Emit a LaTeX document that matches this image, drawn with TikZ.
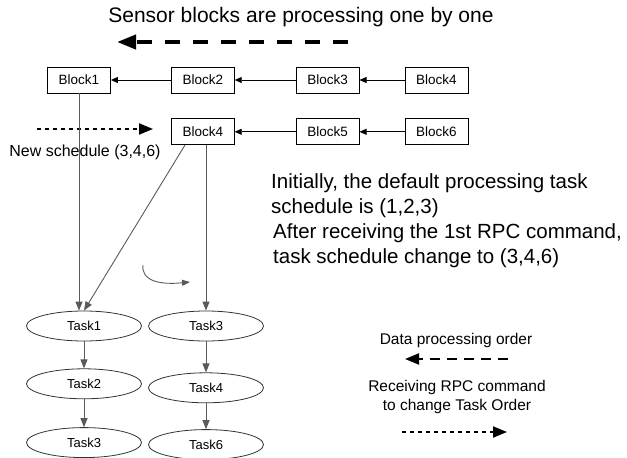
\documentclass[tikz,border=0pt]{standalone}
\usepackage{fontspec}
\setmainfont{Liberation Sans}
\usetikzlibrary{arrows.meta,positioning,shapes.geometric}
\definecolor{linkgray}{HTML}{5A5A5A}

\begin{document}
\begin{tikzpicture}
  [x=1pt,y=-1pt,
   blockbox/.style={draw,line width=0.8pt,minimum width=63pt,minimum height=26pt,
     inner sep=0pt,font=\fontsize{13.5}{16}\selectfont},
   taskbox/.style={ellipse,draw=black!80,line width=0.8pt,minimum width=115pt,
     minimum height=30pt,inner sep=0pt,font=\fontsize{13}{16}\selectfont},
   post/.style={-{Triangle[length=7pt,width=6pt]},line width=0.8pt},
   feed/.style={-{Triangle[length=9pt,width=7pt]},draw=linkgray,fill=none,line width=0.9pt},
   big text/.style={font=\fontsize{20.5}{25}\selectfont,align=left,inner sep=0pt},
   small text/.style={font=\fontsize{15.5}{19}\selectfont,align=center,inner sep=0pt},
   order/.style={line width=4pt,dash pattern=on 15pt off 13pt,
     -{Triangle[length=19pt,width=14pt]}},
   order key/.style={line width=2pt,dash pattern=on 10pt off 7pt,
     -{Triangle[length=14pt,width=11pt]}},
   rpc/.style={line width=2pt,dash pattern=on 4pt off 4pt,
     -{Triangle[length=14pt,width=11pt]}}]

  \useasboundingbox (0,0) rectangle (627,458);

  \node[big text,font=\fontsize{21}{25}\selectfont] (title) at (301,17)
    {Sensor blocks are processing one by one};
  \coordinate (order start) at (348,42);
  \coordinate (order end)   at (117,42);
  \draw[order] (order start) -- (order end);

  % sensor blocks, processed right to left
  \node[blockbox] (block 1) at (79,80)               {Block1};
  \node[blockbox] (block 2) [right=60pt of block 1] {Block2}
    edge [post] (block 1);
  \node[blockbox] (block 3) [right=61pt of block 2] {Block3}
    edge [post] (block 2);
  \node[blockbox] (block 4) [right=45pt of block 3] {Block4}
    edge [post] (block 3);

  \node[blockbox] (next 4)  [below=25pt of block 2] {Block4};
  \node[blockbox] (next 5)  [below=25pt of block 3] {Block5}
    edge [post] (next 4);
  \node[blockbox] (next 6)  [below=25pt of block 4] {Block6}
    edge [post] (next 5);

  \coordinate (rpc start) at (37,129);
  \coordinate (rpc end)   at (153,129);
  \draw[rpc] (rpc start) -- (rpc end);
  \node[small text,font=\fontsize{16}{19}\selectfont] (new schedule) at (85,152)
    {New schedule (3,4,6)};

  \node[big text,anchor=west] (default note) at (271,195.5)
    {Initially, the default processing task\\schedule is (1,2,3)};
  \node[big text,anchor=west] (change note) at (273,245.5)
    {After receiving the 1st RPC command,\\task schedule change to (3,4,6)};

  % task schedules: default (1,2,3) and new (3,4,6)
  \node[taskbox] (old 1) at (84,326)             {Task1};
  \node[taskbox] (old 2) [below=27pt of old 1] {Task2};
  \node[taskbox] (old 3) [below=28pt of old 2] {Task3};
  \node[taskbox] (new 3) at (206,326)            {Task3};
  \node[taskbox] (new 4) [below=31pt of new 3] {Task4};
  \node[taskbox] (new 6) [below=26pt of new 4] {Task6};

  \draw[feed] (block 1.south) -- (block 1.south |- old 1.north);
  \draw[feed] ([xshift=14pt]next 4.south west) -- (old 1.north);
  \draw[feed] (next 4.south -| new 3) -- (new 3.north);
  \draw[feed] (old 1) -- (old 2);
  \draw[feed] (old 2) -- (old 3);
  \draw[feed] (new 3) -- (new 4);
  \draw[feed] (new 4) -- (new 6);

  \coordinate (swap start) at (143,265);
  \coordinate (swap end)   at (190,282);
  \draw[feed,-{Triangle[length=8pt,width=6pt]}] (swap start)
    .. controls (141,281) and (160,285) .. (swap end);

  % legend
  \node[small text] (order label) at (456,340) {Data processing order};
  \coordinate (key start) at (508,359);
  \coordinate (key end)   at (405,359);
  \draw[order key] (key start) -- (key end);
  \node[small text] (rpc label) at (457,397) {Receiving RPC command\\to change Task Order};
  \coordinate (rpc key start) at (402,432);
  \coordinate (rpc key end)   at (507,432);
  \draw[rpc] (rpc key start) -- (rpc key end);
\end{tikzpicture}
\end{document}
